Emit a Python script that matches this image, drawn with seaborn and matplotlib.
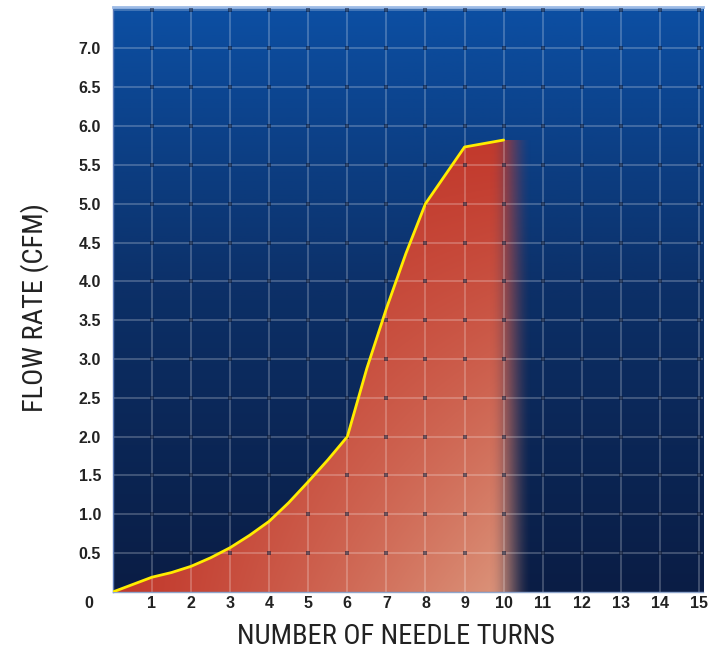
import numpy as np
import matplotlib.pyplot as plt
import seaborn as sns
from matplotlib import font_manager
from matplotlib.colors import LinearSegmentedColormap

# needle turns vs flow rate (CFM)
turns = [0, 1, 1.5, 2, 2.5, 3, 3.5, 4, 4.5, 5, 5.5, 6, 6.5, 7, 7.5, 8, 9, 10]
flow = [0, 0.19, 0.25, 0.33, 0.44, 0.57, 0.73, 0.91, 1.15, 1.42, 1.70, 2.0,
        2.88, 3.65, 4.36, 5.0, 5.73, 5.82]
x_ticks = list(range(1, 16))
y_ticks = [0.5, 1.0, 1.5, 2.0, 2.5, 3.0, 3.5, 4.0, 4.5, 5.0, 5.5, 6.0, 6.5, 7.0]
y_tick_labels = [f"{v:.1f}" for v in y_ticks]

XMAX, YMAX = 15.1, 7.53

sns.set_theme(style="white")
plt.rcParams['font.family'] = ['Liberation Sans', 'DejaVu Sans']

# pick a condensed face for the axis titles if one is installed
installed = {f.name for f in font_manager.fontManager.ttflist}
narrow_face = 'DejaVu Sans'
for cand in ['Roboto Condensed', 'Open Sans Condensed', 'Liberation Sans Narrow',
             'DejaVu Sans Condensed']:
    if cand in installed:
        narrow_face = cand
        break
title_kw = dict(family=[narrow_face, 'DejaVu Sans'], fontstretch='condensed',
                color='#222222', va='center')
title_size = 20.5 if narrow_face != 'DejaVu Sans' else 17

fig = plt.figure(figsize=(7.1, 6.57), dpi=100)
ax = fig.add_axes([0.159, 0.099, 0.831, 0.890])

# blue background gradient
bg = LinearSegmentedColormap.from_list("bg", ["#0a1d45", "#0c2f66", "#0c4fa3"])
grad = np.linspace(0, 1, 256).reshape(-1, 1)
ax.imshow(grad, cmap=bg, origin='lower', extent=(0, XMAX, 0, YMAX),
          aspect='auto', zorder=0)

# red area under the curve, fading out to the right
fx = np.array(turns + [11.0])
fy = np.array(flow + [flow[-1]])
nx, ny = 440, 300
gx, gy = np.meshgrid(np.linspace(0, 11, nx), np.linspace(0, 6, ny))
t = np.clip(gx / 10 * (1 - gy / 6), 0, 1) ** 1.2
c0 = np.array([0.76, 0.22, 0.17])
c1 = np.array([0.86, 0.58, 0.48])
rgba = np.zeros((ny, nx, 4))
rgba[..., :3] = c0 + t[..., None] * (c1 - c0)
s = np.clip((10.75 - gx) / 1.1, 0, 1)
rgba[..., 3] = s * s * (3 - 2 * s)
im = ax.imshow(rgba, origin='lower', extent=(0, 11, 0, 6), aspect='auto', zorder=1)
poly = ax.fill_between(fx, fy, color='none', lw=0)
im.set_clip_path(poly.get_paths()[0], transform=ax.transData)

# grid with dark joints
y_grid = np.arange(0.5, YMAX, 0.5)
ax.vlines(x_ticks, 0, YMAX, colors='white', alpha=0.24, lw=1.3, zorder=2)
ax.hlines(y_grid, 0, XMAX, colors='white', alpha=0.24, lw=1.3, zorder=2)
jx, jy = np.meshgrid(x_ticks, y_grid)
ax.scatter(jx.ravel(), jy.ravel(), marker='s', s=8, color='#0a1733',
           alpha=0.55, lw=0, zorder=3)

sns.lineplot(x=turns, y=flow, color='#ffec00', lw=2, ax=ax, zorder=5)

ax.set_xlim(0, XMAX)
ax.set_ylim(0, YMAX)
ax.set_xticks(x_ticks)
ax.set_xticklabels([str(v) for v in x_ticks], fontsize=11.5, fontweight='bold', color='#222222')
ax.set_yticks(y_ticks)
ax.set_yticklabels(y_tick_labels, fontsize=11.5, fontweight='bold', color='#222222')
ax.tick_params(axis='x', length=0, pad=3)
ax.tick_params(axis='y', length=0, pad=8.5)
fig.text(89 / 710, 1 - 603 / 657, "0", fontsize=11.5, fontweight='bold',
         color='#222222', ha='center', va='center')

ax.set_xlabel("NUMBER OF NEEDLE TURNS", fontsize=title_size, **title_kw)
ax.xaxis.set_label_coords(0.48, -0.077)
ax.set_ylabel("FLOW RATE (CFM)", fontsize=title_size, **title_kw)
ax.yaxis.set_label_coords(-0.132, 0.487)

ax.spines['right'].set_visible(False)
ax.spines['top'].set_color('#9dbbe6')
ax.spines['top'].set_linewidth(2)
ax.spines['left'].set_color('#5a7ab8')
ax.spines['left'].set_linewidth(1)
ax.spines['bottom'].set_color('#8fa6cc')
ax.spines['bottom'].set_linewidth(1)

fig.savefig("out.png", dpi=100, facecolor='white')
